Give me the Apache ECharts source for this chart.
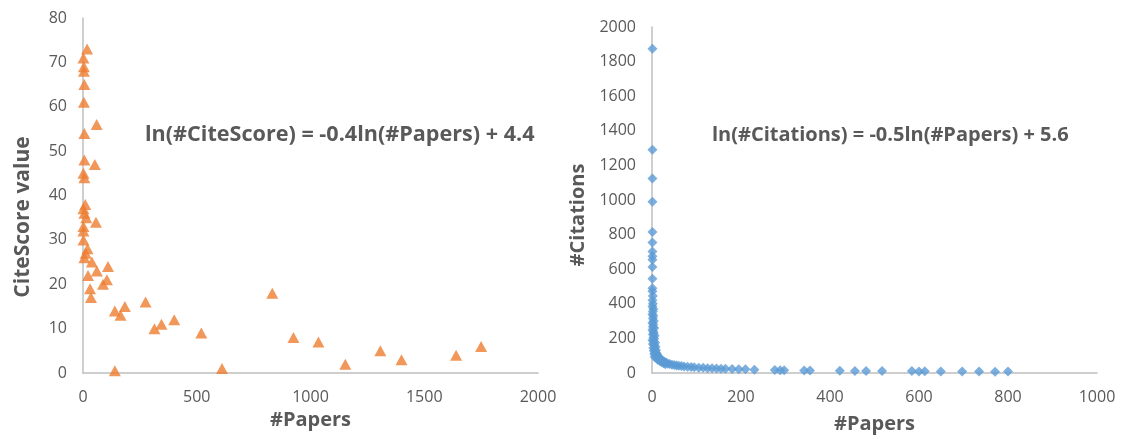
<!DOCTYPE html>
<html>
<head>
<meta charset="utf-8">
<script src="https://cdn.jsdelivr.net/npm/echarts@6/dist/echarts.min.js"></script>
<style>
  html, body { margin: 0; padding: 0; background: #fff; }
  #chart { width: 1123px; height: 439px; }
</style>
</head>
<body>
<div id="chart"></div>
<script>
// Left panel: #Papers vs CiteScore value
const citeScorePoints = [
  [18,73],[2,71],[4,69],[4,68],[6,65],[4,61],[60,56],[6,54],[6,48],[52,47],
  [2,45],[6,44],[10,38],[2,37],[6,36],[14,35],[57,34],[2,33],[2,32],[2,30],
  [20,28],[12,27],[6,26],[39,25],[61,23],[110,24],[22,22],[105,21],[88,20],[31,19],
  [35,17],[140,14],[184,15],[165,13],[275,16],[314,10],[345,11],[401,12],[520,9],[140,0.5],
  [611,1],[832,18],[925,8],[1035,7],[1153,2],[1307,5],[1400,3],[1640,4],[1750,6]
];
// Right panel: #Papers vs #Citations
const citationPoints = [
  [1,1875],[1,1290],[1,1125],[1,990],[1,815],[1,755],[1,703],[1,675],[1,655],[1,612],
  [1,545],[1,490],[1,472],[2,445],[1,420],[2,400],[1,385],[3,370],[2,355],[1,340],
  [3,330],[2,315],[4,300],[1,290],[3,280],[2,268],[5,260],[1,250],[3,240],[4,230],
  [2,222],[6,215],[3,205],[5,198],[1,190],[4,182],[7,175],[2,168],[5,160],[8,152],
  [3,145],[6,140],[9,132],[4,128],[7,120],[10,115],[5,110],[12,105],[8,100],[14,95],
  [6,92],[16,88],[11,84],[20,80],[13,76],[24,72],[18,68],[28,65],[22,62],[32,60],
  [26,57],[36,54],[40,52],[30,50],[45,48],[50,46],[55,44],[60,42],[66,40],[72,38],
  [80,36],[88,34],[95,33],[105,31],[115,30],[125,28],[135,27],[145,26],[155,25],[165,24],
  [180,23],[195,22],[210,21],[230,19],[276,17],[288,16],[297,16],[342,15],[355,14],[422,13],
  [456,12],[481,12],[517,12],[584,11],[600,9],[613,10],[649,8],[697,9],[735,9],[771,7],[800,8]
];
const leftXTicks = { min: 0, max: 2000, interval: 500 };
const leftYTicks = { min: 0, max: 80, interval: 10 };
const rightXTicks = { min: 0, max: 1000, interval: 200 };
const rightYTicks = { min: 0, max: 2000, interval: 200 };
const leftEquation = 'ln(#CiteScore) = -0.4ln(#Papers) + 4.4';
const rightEquation = 'ln(#Citations) = -0.5ln(#Papers) + 5.6';
const leftYTitle = 'CiteScore value';
const rightYTitle = '#Citations';
const xTitle = '#Papers';

const FONT = '"Open Sans", Lato, sans-serif';
const TXT = '#595959';
const AX = '#BFBFBF';

function axisBase(t, name, gap) {
  return {
    type: 'value', min: t.min, max: t.max, interval: t.interval,
    name: name, nameLocation: 'middle', nameGap: gap,
    nameTextStyle: { fontFamily: FONT, fontWeight: 'bold', fontSize: 20, color: TXT },
    axisLine: { show: true, onZero: false, lineStyle: { color: AX, width: 1.5 } },
    axisTick: { show: false },
    splitLine: { show: false },
    axisLabel: { fontFamily: FONT, fontSize: 16, color: TXT, margin: 16, formatter: v => String(v) }
  };
}

const chart = echarts.init(document.getElementById('chart'), null, { renderer: 'canvas' });
chart.setOption({
  backgroundColor: '#fff',
  animation: false,
  grid: [
    { left: 83, top: 18, width: 455, bottom: 66 },
    { left: 652, top: 27, width: 445, bottom: 65 }
  ],
  xAxis: [
    Object.assign(axisBase(leftXTicks, xTitle, 30), { gridIndex: 0 }),
    Object.assign(axisBase(rightXTicks, xTitle, 41), { gridIndex: 1 })
  ],
  yAxis: [
    Object.assign(axisBase(leftYTicks, '', 0), { gridIndex: 0 }),
    Object.assign(axisBase(rightYTicks, '', 0), { gridIndex: 1 })
  ],
  graphic: [
    { type: 'text', left: 145, top: 124, style: { text: leftEquation, font: 'bold 21.6px ' + FONT, fill: TXT } },
    { type: 'text', left: 712, top: 125, style: { text: rightEquation, font: 'bold 20px ' + FONT, fill: TXT } },
    { type: 'text', x: 23, y: 217, rotation: Math.PI / 2,
      style: { text: leftYTitle, font: 'bold 21px ' + FONT, fill: TXT, align: 'center', verticalAlign: 'middle' } },
    { type: 'text', x: 578, y: 215, rotation: Math.PI / 2,
      style: { text: rightYTitle, font: 'bold 20px ' + FONT, fill: TXT, align: 'center', verticalAlign: 'middle' } }
  ],
  series: [
    {
      type: 'scatter', xAxisIndex: 0, yAxisIndex: 0,
      data: citeScorePoints, symbol: 'triangle', symbolSize: [12, 11],
      itemStyle: { color: '#ED7D31' }
    },
    {
      type: 'scatter', xAxisIndex: 1, yAxisIndex: 1,
      data: citationPoints, symbol: 'diamond', symbolSize: [10, 10],
      itemStyle: { color: '#5B9BD5' }
    }
  ]
});
</script>
</body>
</html>
